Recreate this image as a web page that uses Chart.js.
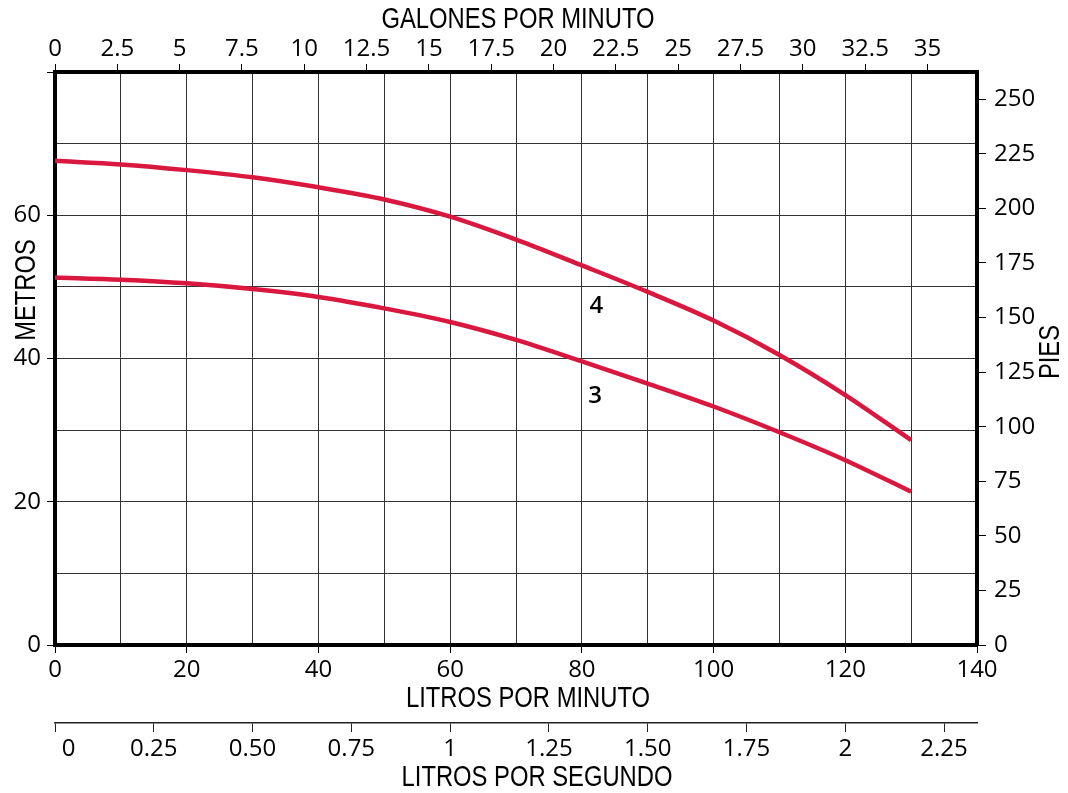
<!DOCTYPE html>
<html>
<head>
<meta charset="utf-8">
<script src="https://cdn.jsdelivr.net/npm/chart.js@4.4.1/dist/chart.umd.min.js"></script>
<style>
  html, body { margin: 0; padding: 0; background: #fff; }
  #wrap { width: 1068px; height: 793px; }
</style>
</head>
<body>
<div id="wrap"><canvas id="curveChart" width="1068" height="793"></canvas></div>
<script>
// caudal, litros por minuto
var flowLpm = [0, 10, 20, 30, 40, 50, 60, 70, 80, 90, 100, 110, 120, 130];
// altura en metros para cada curva
var head4 = [67.6, 67.1, 66.3, 65.3, 63.9, 62.2, 59.8, 56.6, 53.0, 49.3, 45.3, 40.5, 34.9, 28.6];
var head3 = [51.3, 51.0, 50.5, 49.7, 48.6, 47.0, 45.1, 42.6, 39.6, 36.5, 33.3, 29.7, 25.8, 21.4];

// curve names and where they are written (lpm, metros)
var curveNames = ['4', '3'];
var nameLpm = [82.2, 82.0];
var nameMetros = [47.3, 34.8];

var LPM_MAX = 140;
var M_MAX = 80;
var LITERS_PER_GALLON = 3.785;
var FEET_PER_METER = 3.2808;

var lineRed = '#d9173f';
var gridColor = '#333';
var tickFont = { family: "'Open Sans', sans-serif", size: 24 };
// no narrow face installed, so the titles are squeezed by hand
var titleFontCss = "29px 'Liberation Sans', Arial, sans-serif";
var NARROW = 0.82;

function toPoints(ys) {
    return flowLpm.map(function (q, i) { return { x: q, y: ys[i] }; });
}

function everyOther(step) {
    return function (ctx) {
        return ctx.tick && Math.round(ctx.tick.value) % step === 0 ? '#000' : 'rgba(0,0,0,0)';
    };
}

function narrowText(c, text, x, y, angle) {
    c.save();
    c.translate(x, y);
    c.rotate(angle);
    c.scale(NARROW, 1);
    c.fillText(text, 0, 0);
    c.restore();
}

// axis titles + curve names
var extraText = {
    id: 'extraText',
    afterDraw: function (chart) {
        var c = chart.ctx;
        var area = chart.chartArea;
        var xs = chart.scales.x, ys = chart.scales.y;
        var midX = (area.left + area.right) / 2;
        c.save();
        c.fillStyle = '#000';
        c.textAlign = 'center';
        c.textBaseline = 'middle';
        c.font = titleFontCss;

        narrowText(c, 'GALONES POR MINUTO', midX + 2, 20, 0);
        narrowText(c, 'LITROS POR MINUTO', midX + 12, area.bottom + 54, 0);
        narrowText(c, 'LITROS POR SEGUNDO', midX + 21, area.bottom + 133, 0);
        narrowText(c, 'METROS', area.left - 28, area.top + 218, -Math.PI / 2);
        narrowText(c, 'PIES', area.right + 74, area.top + 280, -Math.PI / 2);

        c.font = '600 24px ' + tickFont.family;
        for (var i = 0; i < curveNames.length; i++) {
            c.fillText(curveNames[i], xs.getPixelForValue(nameLpm[i]), ys.getPixelForValue(nameMetros[i]));
        }
        c.restore();
    }
};

var ctx = document.getElementById('curveChart').getContext('2d');

var pumpChart = new Chart(ctx, {
    type: 'line',
    data: {
        datasets: [{
            label: curveNames[0],
            data: toPoints(head4),
            borderColor: lineRed,
            borderWidth: 4.5,
            pointRadius: 0,
            fill: false,
            cubicInterpolationMode: 'monotone',
            xAxisID: 'x',
            yAxisID: 'y'
        }, {
            label: curveNames[1],
            data: toPoints(head3),
            borderColor: lineRed,
            borderWidth: 4.5,
            pointRadius: 0,
            fill: false,
            cubicInterpolationMode: 'monotone',
            xAxisID: 'x',
            yAxisID: 'y'
        }]
    },
    options: {
        responsive: false,
        animation: false,
        layout: { padding: 0 },
        plugins: {
            legend: { display: false },
            tooltip: { enabled: false }
        },
        scales: {
            x: {
                type: 'linear',
                position: 'bottom',
                weight: 0,
                min: 0,
                max: LPM_MAX,
                afterFit: function (s) { s.height = 78; },
                grid: { color: gridColor, lineWidth: 1, tickLength: 8, tickColor: everyOther(20) },
                border: { display: true, width: 4, color: '#000' },
                ticks: {
                    stepSize: 10, autoSkip: false, maxRotation: 0, padding: 3,
                    color: '#000', font: tickFont,
                    callback: function (v) { return v % 20 === 0 ? String(v) : ''; }
                }
            },
            x3: {
                type: 'linear',
                position: 'bottom',
                weight: 1,
                min: 0,
                max: LPM_MAX / 60,
                afterFit: function (s) { s.height = 70; },
                grid: { drawOnChartArea: false, tickLength: 9, tickColor: '#222' },
                border: { display: true, width: 1.5, color: '#222' },
                ticks: {
                    stepSize: 0.25, includeBounds: false, autoSkip: false, maxRotation: 0, padding: 3,
                    color: '#000', font: tickFont,
                    callback: function (v) {
                        if (v === 0) return '\u2007\u20070';
                        return Math.abs(v - Math.round(v)) < 1e-6 ? String(Math.round(v)) : v.toFixed(2);
                    }
                }
            },
            x2: {
                type: 'linear',
                position: 'top',
                min: 0,
                max: LPM_MAX / LITERS_PER_GALLON,
                afterFit: function (s) { s.height = 72; },
                grid: { drawOnChartArea: false, tickLength: 8, tickColor: '#000' },
                border: { display: true, width: 4, color: '#000' },
                ticks: {
                    stepSize: 2.5, includeBounds: false, autoSkip: false, maxRotation: 0, padding: 0,
                    color: '#000', font: tickFont,
                    callback: function (v) { return String(Math.round(v * 10) / 10); }
                }
            },
            y: {
                type: 'linear',
                position: 'left',
                min: 0,
                max: M_MAX,
                afterFit: function (s) { s.width = 55; },
                grid: { color: gridColor, lineWidth: 1, tickLength: 8, tickColor: everyOther(20) },
                border: { display: true, width: 4, color: '#000' },
                ticks: {
                    stepSize: 10, autoSkip: false, padding: 6,
                    color: '#000', font: tickFont,
                    callback: function (v) { return (v % 20 === 0 && v !== M_MAX) ? String(v) : ''; }
                }
            },
            y2: {
                type: 'linear',
                position: 'right',
                min: 0,
                max: M_MAX * FEET_PER_METER,
                afterFit: function (s) { s.width = 91; },
                grid: { drawOnChartArea: false, tickLength: 9, tickColor: '#000' },
                border: { display: true, width: 4, color: '#000' },
                ticks: {
                    stepSize: 25, includeBounds: false, autoSkip: false, padding: 8,
                    color: '#000', font: tickFont
                }
            }
        }
    },
    plugins: [extraText]
});
</script>
</body>
</html>
